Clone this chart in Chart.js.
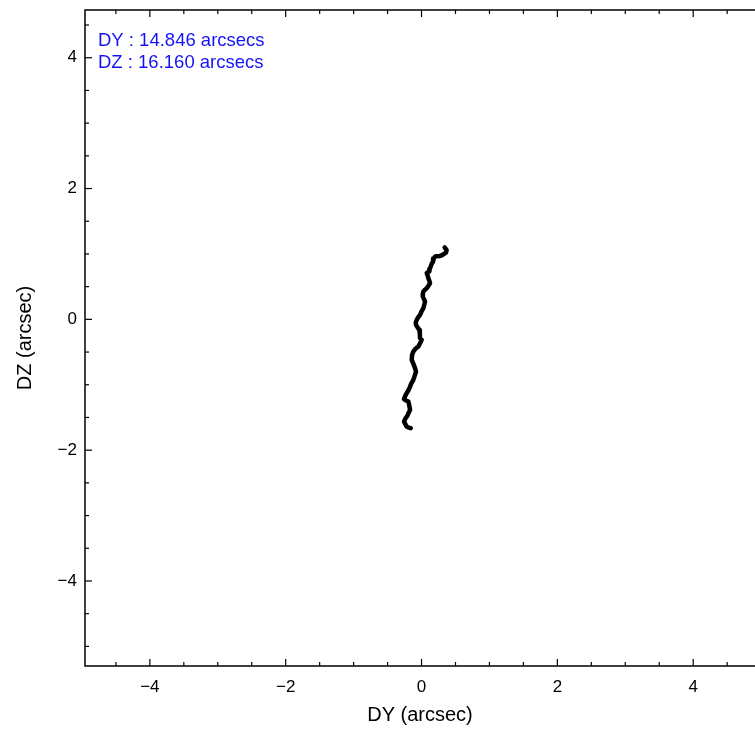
<!DOCTYPE html>
<html>
<head>
<meta charset="utf-8">
<script src="https://cdn.jsdelivr.net/npm/chart.js@4"></script>
<style>
  body { margin: 0; background: #fff; }
  canvas { display: block; }
</style>
</head>
<body>
<canvas id="offsetChart" width="755" height="729"></canvas>
<script>
// pointing offsets (arcsec)
const dyValues = [0.34, 0.37, 0.36, 0.30, 0.27, 0.22, 0.20, 0.18, 0.17, 0.15,
  0.135, 0.12, 0.115, 0.09, 0.077, 0.09, 0.10, 0.115, 0.125, 0.10,
  0.077, 0.05, 0.027, 0.02, 0.018, 0.035, 0.052, 0.04, 0.027, 0.0,
  -0.022, -0.05, -0.071, -0.085, -0.081, -0.06, -0.032, -0.025, -0.022, 0.003,
  -0.02, -0.047, -0.09, -0.121, -0.14, -0.144, -0.12, -0.096, -0.081, -0.10,
  -0.121, -0.15, -0.169, -0.19, -0.218, -0.24, -0.258, -0.23, -0.194, -0.18,
  -0.169, -0.19, -0.209, -0.24, -0.258, -0.24, -0.218, -0.19, -0.159]
const dzValues = [1.10, 1.06, 1.02, 0.98, 0.97, 0.965, 0.96, 0.93, 0.884, 0.85,
  0.807, 0.77, 0.731, 0.72, 0.706, 0.67, 0.63, 0.59, 0.554, 0.51,
  0.477, 0.45, 0.425, 0.39, 0.349, 0.31, 0.272, 0.22, 0.171, 0.12,
  0.069, 0.03, -0.008, -0.05, -0.084, -0.12, -0.161, -0.22, -0.287, -0.313,
  -0.36, -0.416, -0.45, -0.492, -0.55, -0.619, -0.68, -0.746, -0.798, -0.86,
  -0.925, -0.98, -1.028, -1.08, -1.128, -1.17, -1.22, -1.24, -1.257, -1.32,
  -1.384, -1.43, -1.476, -1.52, -1.563, -1.60, -1.639, -1.655, -1.664]

const majorTicks = [-4, -2, 0, 2, 4]
const xMinorTicks = [-4.5, -3.5, -3, -2.5, -1.5, -1, -0.5, 0.5, 1, 1.5, 2.5, 3, 3.5, 4.5]
const yMinorTicks = [-5, -4.5, -3.5, -3, -2.5, -1.5, -1, -0.5, 0.5, 1, 1.5, 2.5, 3, 3.5, 4.5]
const infoLines = ['DY : 14.846 arcsecs', 'DZ : 16.160 arcsecs']

const fontFamily = '"Liberation Sans", Arial, Helvetica, sans-serif'

const points = dyValues.map((v, i) => ({ x: v, y: dzValues[i] }))

const fmtTick = (v) => (v < 0 ? '\u2212' + Math.abs(v) : String(v))

// frame, inward ticks and the text box
const framePlugin = {
  id: 'frame',
  afterDraw(chart) {
    const ctx = chart.ctx
    const { left, right, top, bottom } = chart.chartArea
    const xs = chart.scales.x
    const ys = chart.scales.y
    ctx.save()
    ctx.strokeStyle = '#000'
    ctx.lineWidth = 1.5
    ctx.beginPath()
    ctx.moveTo(right + 2, top)
    ctx.lineTo(left, top)
    ctx.lineTo(left, bottom)
    ctx.lineTo(right + 2, bottom)
    ctx.stroke()

    ctx.lineWidth = 1.2
    const tickX = (vals, len) => {
      vals.forEach((v) => {
        const px = xs.getPixelForValue(v)
        ctx.beginPath()
        ctx.moveTo(px, bottom)
        ctx.lineTo(px, bottom - len)
        ctx.moveTo(px, top)
        ctx.lineTo(px, top + len)
        ctx.stroke()
      })
    }
    const tickY = (vals, len) => {
      vals.forEach((v) => {
        const py = ys.getPixelForValue(v)
        ctx.beginPath()
        ctx.moveTo(left, py)
        ctx.lineTo(left + len, py)
        ctx.stroke()
      })
    }
    tickX(majorTicks, 7)
    tickX(xMinorTicks, 4)
    tickY(majorTicks, 7)
    tickY(yMinorTicks, 4)

    ctx.fillStyle = 'rgb(20, 20, 245)'
    ctx.font = '18.5px ' + fontFamily
    ctx.textBaseline = 'alphabetic'
    ctx.textAlign = 'left'
    infoLines.forEach((t, i) => {
      ctx.fillText(t, left + 13, top + 36 + i * 21.5)
    })
    ctx.restore()
  }
}

new Chart(document.getElementById('offsetChart').getContext('2d'), {
  type: 'scatter',
  data: {
    datasets: [{
      data: points,
      showLine: true,
      borderColor: '#000',
      borderWidth: 4.5,
      pointRadius: 0,
      tension: 0,
      borderJoinStyle: 'round',
      borderCapStyle: 'round'
    }]
  },
  options: {
    responsive: false,
    animation: false,
    layout: { padding: { top: 10, right: 0, left: 0, bottom: 0 } },
    plugins: {
      legend: { display: false },
      tooltip: { enabled: false }
    },
    scales: {
      x: {
        type: 'linear',
        min: -4.955,
        max: 4.91,
        border: { display: false },
        grid: { display: false, drawTicks: false, tickLength: 0 },
        afterBuildTicks: (scale) => { scale.ticks = majorTicks.map((v) => ({ value: v })) },
        afterFit: (scale) => {
          scale.height = 63
          scale.paddingLeft = 0
          scale.paddingRight = 0
        },
        ticks: {
          color: '#000',
          padding: 11,
          maxRotation: 0,
          font: { family: fontFamily, size: 17 },
          callback: fmtTick
        },
        title: {
          display: true,
          text: 'DY (arcsec)',
          color: '#000',
          padding: { top: 0, bottom: 2 },
          font: { family: fontFamily, size: 20 }
        }
      },
      y: {
        type: 'linear',
        min: -5.3,
        max: 4.73,
        border: { display: false },
        grid: { display: false, drawTicks: false, tickLength: 0 },
        afterBuildTicks: (scale) => { scale.ticks = majorTicks.map((v) => ({ value: v })) },
        afterFit: (scale) => {
          scale.width = 85
          scale.paddingTop = 0
          scale.paddingBottom = 0
        },
        ticks: {
          color: '#000',
          padding: 8,
          font: { family: fontFamily, size: 17 },
          callback: fmtTick
        },
        title: {
          display: true,
          text: 'DZ (arcsec)',
          color: '#000',
          padding: { top: 13, bottom: 0 },
          font: { family: fontFamily, size: 20 }
        }
      }
    }
  },
  plugins: [framePlugin]
})
</script>
</body>
</html>
